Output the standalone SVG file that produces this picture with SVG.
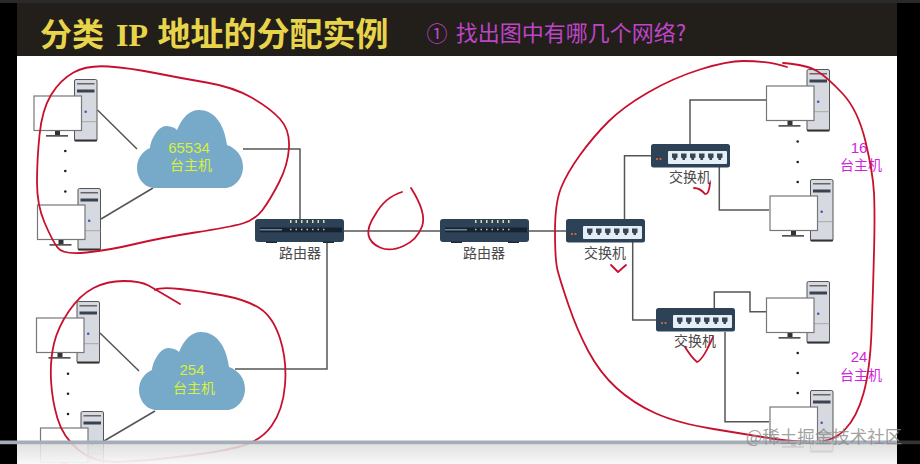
<svg xmlns="http://www.w3.org/2000/svg" width="920" height="464" viewBox="0 0 920 464">
<style>
.wire{fill:none;stroke:#555;stroke-width:1.5}
.ink{fill:none;stroke:#c8102e;stroke-width:1.8;stroke-linecap:round;stroke-linejoin:round}
text{font-family:"Noto Sans CJK SC","Liberation Sans",sans-serif;text-anchor:middle}
.lbl{font-size:14px;fill:#4a4a4a}
.cl{font-size:14px;fill:#d6f03c}
.pk{font-size:14px;fill:#d21fe0}
.num{font-family:"Liberation Sans",sans-serif;font-size:15px}
.cloud{fill:#77a9c8}
.dot{fill:#222}
</style>
<defs>
<linearGradient id="fade" x1="0" y1="0" x2="0" y2="1"><stop offset="0" stop-color="#dcdcdc" stop-opacity=".85"/><stop offset="1" stop-color="#f8f8f8" stop-opacity=".95"/></linearGradient>
<g id="pc">
<rect x="41" y="0.500" width="22.500" height="61.500" rx="1.500" fill="#d7d9e0" stroke="#555" stroke-width="1"/>
<rect x="43.500" y="4" width="17.500" height="1.500" fill="#666"/>
<rect x="43.500" y="10.500" width="17.500" height="3" fill="#3a4250"/>
<line x1="41" y1="42.700" x2="63.500" y2="42.700" stroke="#a8a8a8"/>
<rect x="41" y="60.500" width="22.500" height="1.800" fill="#333"/>
<circle cx="52.200" cy="32.700" r="1.300" fill="#4a55b8"/>
<rect x="0.500" y="17" width="47.500" height="34.500" fill="#fff" stroke="#777" stroke-width="1.200"/>
<rect x="21.500" y="52" width="5" height="5" fill="#333"/>
<rect x="12.500" y="56" width="22" height="1.700" fill="#555"/>
</g>
<path id="cloudshape" class="cloud" d="M18 78C7 78 0 68 0 58C0 48 6 41 13 38C14 28 22 16 29 16C33 16 37 17 40 20C45 8 52 0 62 0C76 0 87 12 90 35C99 38 106 46 106 57C106 69 97 78 88 78Z"/>
<g id="router">
<rect x="0" y="0" width="89" height="23" rx="3" fill="#2e4257"/>
<rect x="5" y="8.500" width="82" height="4.800" fill="#16222f"/>
<rect x="5" y="10" width="22" height="1.500" fill="#6a8799"/>
<line x1="35" y1="2.500" x2="73" y2="2.500" stroke="#d8e0a8" stroke-width="3" stroke-dasharray="1.500 4"/>
<line x1="35" y1="10.500" x2="73" y2="10.500" stroke="#b8c4b0" stroke-width="1.500" stroke-dasharray="1.500 4"/>
<rect x="11" y="22.500" width="11" height="1.500" fill="#1c2a38"/>
<rect x="68" y="22.500" width="11" height="1.500" fill="#1c2a38"/>
</g>
<path id="port" d="M0 0H5.500V4L4 5V6.500H1.500V5L0 4Z" fill="#3a4553"/>
<g id="switch">
<rect x="0" y="0" width="79" height="23.500" rx="2.500" fill="#2e4257"/>
<rect x="17" y="7" width="59" height="13" rx="1" fill="#e4eef6"/>
<use href="#port" x="21" y="9.500"/><use href="#port" x="30" y="9.500"/><use href="#port" x="39" y="9.500"/><use href="#port" x="48" y="9.500"/><use href="#port" x="57" y="9.500"/><use href="#port" x="66" y="9.500"/>
<circle cx="6" cy="15" r="1.100" fill="#d9703a"/><circle cx="9.500" cy="15" r="1.100" fill="#d9703a"/>
</g>
</defs>

<g id="backdrop">
<rect x="0" y="0" width="920" height="464" fill="#000"/>
<rect x="0" y="0" width="920" height="3" fill="#2a2a2a"/>
<rect x="17" y="3" width="880" height="53" fill="#221e1a"/>
<rect x="17" y="56" width="880" height="408" fill="#fff"/>
</g>

<g id="title">
<text x="72" y="46" font-size="32" font-weight="700" fill="#e8d44a">分类</text>
<text x="132" y="46" font-size="32" font-weight="700" fill="#e8d44a" style="font-family:'Liberation Serif',serif">IP</text>
<text x="273" y="46" font-size="33" font-weight="700" fill="#e8d44a">地址的分配实例</text>
<text x="437" y="41" font-size="21" fill="#bd45c6" style="font-family:'Liberation Serif','Noto Sans CJK SC',serif">①</text>
<text x="571" y="41" font-size="22" fill="#bd45c6">找出图中有哪几个网络?</text>
</g>

<g id="connectors">
<path class="wire" d="M97.500 110L137 149"/>
<path class="wire" d="M101 219L153 188"/>
<path class="wire" d="M243 149H300V219"/>
<path class="wire" d="M344 231H440"/>
<path class="wire" d="M528 231H566"/>
<path class="wire" d="M327 242V369H235"/>
<path class="wire" d="M100 333L139 371"/>
<path class="wire" d="M104 441L155 411"/>
<path class="wire" d="M624.500 219V155.700H651"/>
<path class="wire" d="M632.700 242V320H656"/>
<path class="wire" d="M690 144V100H766"/>
<path class="wire" d="M719.300 167V210H769"/>
<path class="wire" d="M714.300 308V292H750V311.700H766"/>
<path class="wire" d="M725 332V421.700H769"/>
</g>

<g id="net-a-host-1"><use href="#pc" x="33.500" y="79"/></g>
<g id="net-a-dots"><circle class="dot" cx="65.300" cy="151" r="1.300"/><circle class="dot" cx="65.300" cy="171" r="1.300"/><circle class="dot" cx="65.300" cy="191.500" r="1.300"/></g>
<g id="net-a-host-2"><use href="#pc" x="37" y="188"/></g>
<g id="net-a-cloud"><use href="#cloudshape" x="137" y="110"/><text class="cl num" x="189" y="152.500">65534</text><text class="cl" x="191" y="170">台主机</text></g>

<g id="net-b-host-1"><use href="#pc" x="36" y="301"/></g>
<g id="net-b-dots"><circle class="dot" cx="68" cy="373.700" r="1.300"/><circle class="dot" cx="68" cy="393.700" r="1.300"/><circle class="dot" cx="68" cy="414" r="1.300"/></g>
<g id="net-b-host-2"><use href="#pc" x="40" y="411"/></g>
<g id="net-b-cloud"><use href="#cloudshape" x="139" y="332"/><text class="cl num" x="192" y="374.500">254</text><text class="cl" x="194" y="393">台主机</text></g>

<g id="router-1"><use href="#router" x="255" y="219"/><text class="lbl" x="300" y="258">路由器</text></g>
<g id="router-2"><use href="#router" x="440" y="219"/><text class="lbl" x="484" y="258">路由器</text></g>
<g id="switch-0"><use href="#switch" x="566" y="219"/><text class="lbl" x="605" y="258">交换机</text></g>
<g id="switch-1"><use href="#switch" x="651" y="144"/><text class="lbl" x="690" y="182">交换机</text></g>
<g id="switch-2"><use href="#switch" x="656" y="308"/><text class="lbl" x="695" y="346">交换机</text></g>

<g id="net-c-host-1"><use href="#pc" x="766" y="69"/></g>
<g id="net-c-dots"><circle class="dot" cx="797.700" cy="141.500" r="1.300"/><circle class="dot" cx="797.700" cy="162" r="1.300"/><circle class="dot" cx="797.700" cy="182" r="1.300"/></g>
<g id="net-c-host-2"><use href="#pc" x="769.500" y="179"/></g>
<g id="net-c-label"><text class="pk num" x="859" y="152.500">16</text><text class="pk" x="861" y="170">台主机</text></g>

<g id="net-d-host-1"><use href="#pc" x="766" y="281"/></g>
<g id="net-d-dots"><circle class="dot" cx="797.700" cy="353" r="1.300"/><circle class="dot" cx="797.700" cy="373" r="1.300"/><circle class="dot" cx="797.700" cy="393" r="1.300"/></g>
<g id="net-d-host-2"><use href="#pc" x="769.500" y="390"/></g>
<g id="net-d-label"><text class="pk num" x="859" y="362">24</text><text class="pk" x="861" y="380">台主机</text></g>

<g id="annotations">
<path class="ink" d="M73.500 72.500Q87 65 108.500 66.500Q130 68 155 73Q180 78 206.500 82.500Q233 87 251.500 97.500Q270 108 280 119Q290 130 289 147.500Q288 165 279 182.500Q270 200 262.500 210Q255 220 242.500 223.500Q230 227 195 232.500Q160 238 135 244Q110 250 86.500 252.500Q63 255 57.500 247.500Q52 240 44.500 222.500Q37 205 37 182.500Q37 160 39.500 135Q42 110 51 95Q60 80 73.500 72.500Z"/>
<path class="ink" d="M180 304Q160 292 148.500 285.500Q140 281 123.500 281Q107 281 93.500 288Q80 295 69 311Q58 327 54 343.500Q50 360 51 380Q52 400 57.500 418.500Q63 437 78 449.500Q93 462 113 462Q133 462 173 457.500Q213 453 236.500 447.500Q260 442 271.500 426Q283 410 285 385Q287 360 280 338.500Q273 317 260 308.500Q247 300 223.500 295.500Q200 291 180 289Q160 287 155 290"/>
<path class="ink" d="M402 192Q385 197 375 215Q367 227 368.500 235Q370 243 380 247.500Q390 252 403.500 246Q417 240 422 226.500Q427 213 411 188"/>
<path class="ink" d="M787 67Q770 61 743.500 61Q727 61 700 69.500Q673 78 648 92.500Q623 107 608 122Q593 137 580 155Q567 173 561 188Q555 203 555 231.500Q555 260 557.500 270Q560 280 568.500 305Q577 330 588.500 351.500Q600 373 616.500 388Q633 403 655 413Q677 423 713.500 429Q750 435 771.500 438.500Q793 442 813 442Q833 442 845 429.500Q857 417 863.500 393.500Q870 370 871.500 331.500Q873 293 874 253Q875 213 874 193Q873 173 865.500 141.500Q858 110 842.500 93.500Q827 77 817 71Q807 65 783 63"/>
<path class="ink" d="M694 188Q700 188 705 194Q709 195 710 183"/>
<path class="ink" d="M611 265L618 272L626 265"/>
<path class="ink" d="M685 347Q692 358 697 362Q703 360 713 337"/>
</g>

<g id="player-overlay">
<rect x="17" y="444" width="880" height="20" fill="url(#fade)"/>
<rect x="0" y="440.500" width="897" height="3.700" fill="#a5adb8"/>
<rect x="897" y="440.500" width="23" height="3.700" fill="#333"/>
</g>
<text x="824" y="443" font-size="17.500" fill="#8a8a8a" fill-opacity=".8">@稀土掘金技术社区</text>
</svg>
